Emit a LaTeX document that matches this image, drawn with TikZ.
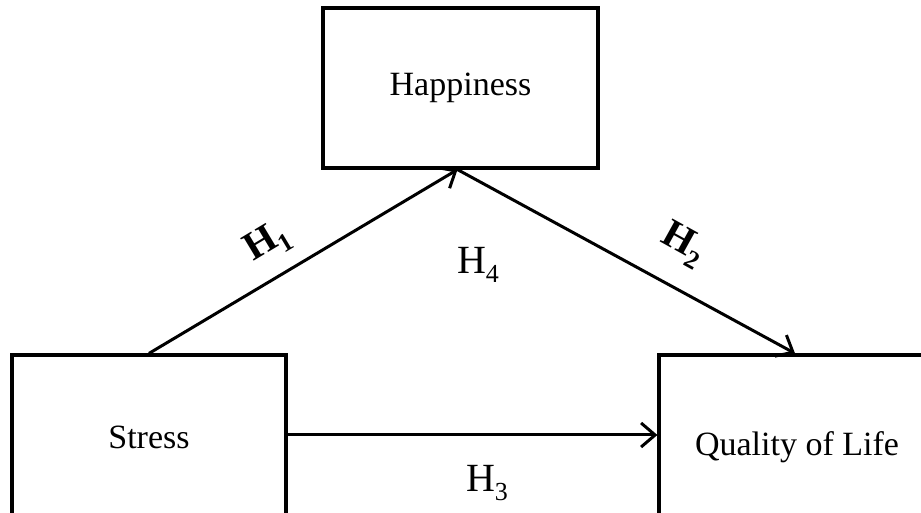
\documentclass[tikz,border=0pt]{standalone}
\usepackage{fontspec}
\setmainfont{Liberation Serif}
\usetikzlibrary{arrows.meta,calc}
\newcommand{\sbx}[1]{\raisebox{-0.22em}{\fontsize{26}{30}\selectfont #1}}
\begin{document}
\begin{tikzpicture}[x=1pt,y=1pt,
  box/.style={draw,line width=3.2pt,rectangle,inner sep=0pt,font=\fontsize{34}{40}\selectfont},
  link/.style={line width=3pt,-{Straight Barb[length=14pt,width=24pt,line width=3pt]}},
  hlab/.style={font=\fontsize{40}{44}\selectfont},
  hlabb/.style={font=\fontsize{40}{44}\selectfont\bfseries}]
\useasboundingbox (0,0) rectangle (921,513);
\clip (0,0) rectangle (921,513);
\node[box,minimum width=275pt,minimum height=160pt] (happy) at (460.5,425) {Happiness};
\node[box,minimum width=274pt,minimum height=164pt] (stress) at (149,76) {Stress};
\node[box,minimum width=276pt,minimum height=184pt] (qol) at (797,66) {Quality of Life};
\coordinate (tip) at ($(happy.south)+(-3,0)$);
\draw[link] (stress.north) -- (tip);
\draw[link] (tip) -- ($(qol.north)+(-2,0)$);
\draw[link] (stress.east |- 0,78) -- (qol.west |- 0,78);
\node[hlabb,rotate=31] (h1) at (268,270) {H\sbx{1}};
\node[hlabb,rotate=-29] (h2) at (683,268) {H\sbx{2}};
\node[hlab] (h4) at (478,248) {H\sbx{4}};
\node[hlab] (h3) at (487,30) {H\sbx{3}};
\end{tikzpicture}
\end{document}
